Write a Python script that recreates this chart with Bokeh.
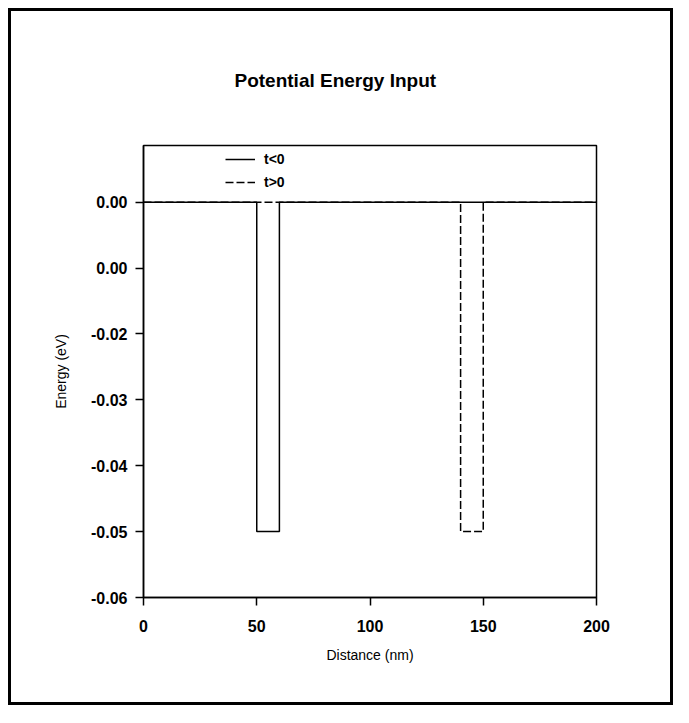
from bokeh.plotting import figure
from bokeh.layouts import column
from bokeh.models import Range1d, FixedTicker, Legend, LegendItem
from bokeh.embed import file_html
from bokeh.resources import INLINE

# data
x_before = [0, 50, 50, 60, 60, 200]
e_before = [0.0, 0.0, -0.05, -0.05, 0.0, 0.0]
x_after = [0, 140, 140, 150, 150, 200]
e_after = [0.0, 0.0, -0.05, -0.05, 0.0, 0.0]
y_ticks = [0.0, -0.01, -0.02, -0.03, -0.04, -0.05, -0.06]
y_tick_labels = ["0.00", "0.00", "-0.02", "-0.03", "-0.04", "-0.05", "-0.06"]
x_ticks = [0, 50, 100, 150, 200]
series_names = ["t<0", "t>0"]

FONT = "Liberation Sans"
W, H = 659, 691
ML, MR, MT, MB = 132, 74, 134, 105

p = figure(width=W, height=H, output_backend="svg", toolbar_location=None,
           x_range=Range1d(0, 200), y_range=Range1d(-0.06, 0.0086),
           min_border_left=ML, min_border_right=MR, min_border_top=MT, min_border_bottom=MB,
           title="Potential Energy Input")

p.title.align = "left"
p.title.offset = 91
p.title.text_font = FONT
p.title.text_font_size = "19px"
p.title.text_font_style = "bold"
p.title.text_color = "black"
p.title.standoff = 110

p.grid.visible = False
p.outline_line_color = "black"
p.outline_line_width = 1.5
p.outline_line_alpha = 1

p.yaxis.ticker = FixedTicker(ticks=y_ticks)
p.yaxis.major_label_overrides = {t: l for t, l in zip(y_ticks, y_tick_labels)}
p.xaxis.ticker = FixedTicker(ticks=x_ticks)
for ax in (p.xaxis, p.yaxis):
    ax.axis_line_width = 1.5
    ax.major_tick_line_width = 1.5
    ax.major_tick_out = 8
    ax.major_tick_in = 0
    ax.minor_tick_out = 0
    ax.minor_tick_in = 0
    ax.major_label_text_font = FONT
    ax.major_label_text_font_size = "16px"
    ax.major_label_text_font_style = "bold"
    ax.major_label_text_color = "black"
    ax.axis_label_text_font = FONT
    ax.axis_label_text_font_size = "14px"
    ax.axis_label_text_font_style = "normal"
    ax.axis_label_text_color = "black"
p.xaxis.axis_label = "Distance (nm)"
p.yaxis.axis_label = "Energy (eV)"
p.xaxis.major_label_standoff = 14
p.yaxis.major_label_standoff = 8
p.xaxis.axis_label_standoff = 12
p.yaxis.axis_label_standoff = 19

r1 = p.line(x_before, e_before, line_color="black", line_width=1.5)
r2 = p.line(x_after, e_after, line_color="black", line_width=1.5, line_dash="8 3")

frame_h = H - MT - MB
legend = Legend(items=[LegendItem(label=series_names[0], renderers=[r1]),
                       LegendItem(label=series_names[1], renderers=[r2])],
                location=(82, frame_h - 47), orientation="vertical")
legend.background_fill_alpha = 0
legend.border_line_alpha = 0
legend.padding = 0
legend.margin = 0
legend.spacing = 3
legend.glyph_width = 30
legend.glyph_height = 20
legend.label_standoff = 9
legend.label_text_font = FONT
legend.label_text_font_size = "14px"
legend.label_text_font_style = "bold"
legend.label_text_color = "black"
p.add_layout(legend, "center")

# page frame: white padding outside, thick black border round the plot
inner = column(p, styles={"border": "3px solid black", "background-color": "white"})
outer = column(inner, styles={"padding": "8px 0px 2px 8px", "background-color": "white"})

open("out.html", "w").write(file_html(outer, INLINE))
